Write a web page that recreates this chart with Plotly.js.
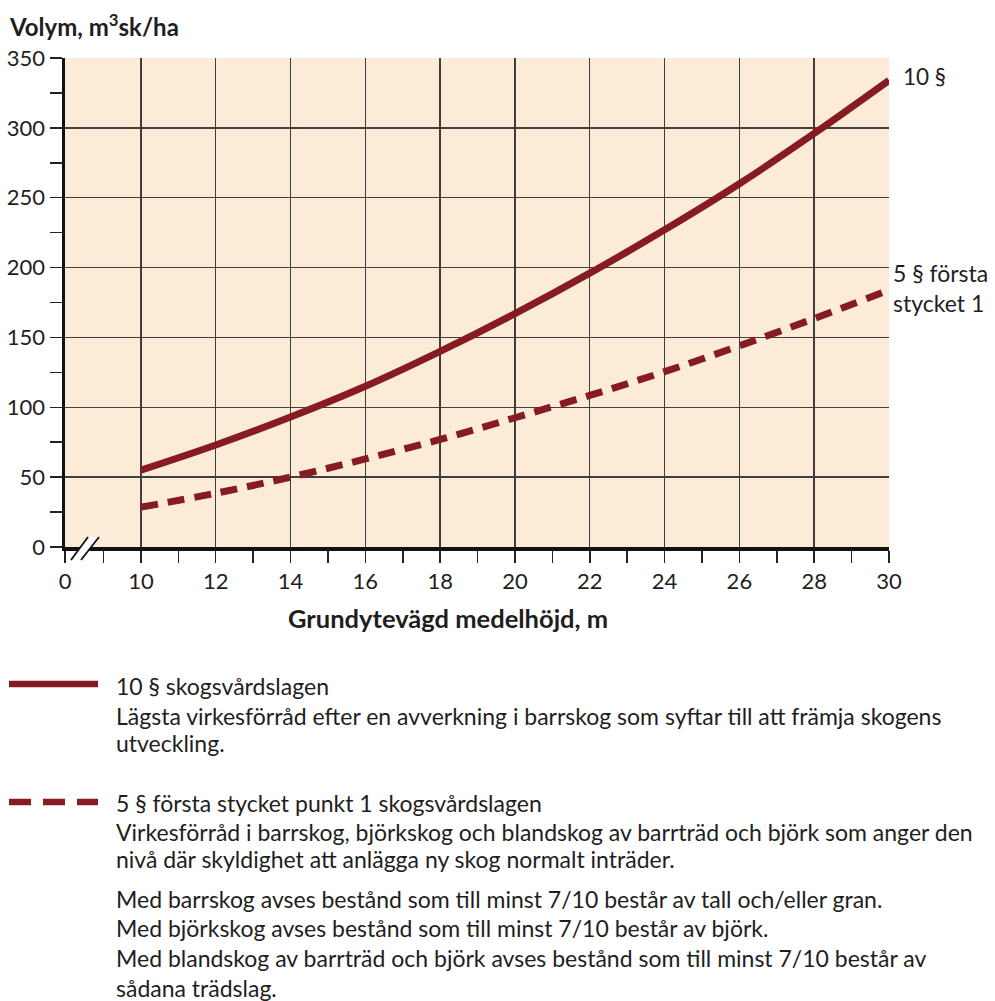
<!DOCTYPE html>
<html>
<head>
<meta charset="utf-8">
<script src="https://cdn.plot.ly/plotly-3.0.1.min.js"></script>
<style>html,body{margin:0;padding:0;background:#fff;}#chart{width:995px;height:1001px;}</style>
</head>
<body>
<div id="chart"></div>
<script>
// ---- data ----
const heights = [10, 12, 14, 16, 18, 20, 22, 24, 26, 28, 30];
const vol10 = [55, 73, 93, 115, 140, 167, 196, 227, 260, 296, 334];
const vol5 = [28.5, 38.5, 50, 63, 77, 92.5, 108.5, 125.5, 144, 163.5, 184];
const xBreakPos = 7.97; // where the "0" label sits after the axis break
const xTickVals = [xBreakPos, 10, 12, 14, 16, 18, 20, 22, 24, 26, 28, 30];
const xTickText = ['0', '10', '12', '14', '16', '18', '20', '22', '24', '26', '28', '30'];
const xMinorVals = [9, 11, 13, 15, 17, 19, 21, 23, 25, 27, 29];
const yTickVals = [0, 50, 100, 150, 200, 250, 300, 350];

const name10 = '10 § skogsvårdslagen';
const name5 = '5 § första stycket punkt 1 skogsvårdslagen';
const label10 = '10 §';
const label5 = '5 § första<br>stycket 1';
const desc10 = ['Lägsta virkesförråd efter en avverkning i barrskog som syftar till att främja skogens', 'utveckling.'];
const desc5 = ['Virkesförråd i barrskog, björkskog och blandskog av barrträd och björk som anger den', 'nivå där skyldighet att anlägga ny skog normalt inträder.'];
const notes = ['Med barrskog avses bestånd som till minst 7/10 består av tall och/eller gran.', 'Med björkskog avses bestånd som till minst 7/10 består av björk.', 'Med blandskog av barrträd och björk avses bestånd som till minst 7/10 består av', 'sådana trädslag.'];

// ---- layout helpers ----
const W = 995, H = 1001;
const L = 65, R = 889, T = 58, B = 547;
const px = x => (x - L) / (R - L);
const py = y => (B - y) / (B - T);
const red = '#871b22';
const txt = '#1e1e1e';
const FONT = 'Lato, "Open Sans", sans-serif';

const traces = [
  {x: heights, y: vol10, mode: 'lines', line: {color: red, width: 7, shape: 'spline'}, name: name10, hoverinfo: 'x+y'},
  {x: heights, y: vol5, mode: 'lines', line: {color: red, width: 7, shape: 'spline', dash: '17px,10px'}, name: name5, hoverinfo: 'x+y'}
];

const ann = [];
function text(x, y, s, size, bold, anchor) {
  ann.push({xref: 'paper', yref: 'paper', x: px(x), y: py(y), text: bold ? '<b>' + s + '</b>' : s,
    showarrow: false, xanchor: anchor || 'left', yanchor: 'middle', align: 'left',
    font: {family: FONT, size: size, color: txt}});
}
text(7, 25, 'Volym, m<sup>3</sup>sk/ha', 24, true);
text(448, 618, 'Grundytevägd medelhöjd, m', 25.5, true, 'center');
text(901, 76, label10, 22.5, false);
text(891, 288, label5, 23, false);

const LS = 23;
text(114, 686, name10, LS, false);
text(114, 716, desc10[0], LS, false);
text(114, 743, desc10[1], LS, false);
text(114, 803, name5, LS, false);
text(114, 832, desc5[0], LS, false);
text(114, 859, desc5[1], LS, false);
text(114, 899, notes[0], LS, false);
text(114, 928, notes[1], LS, false);
text(114, 958, notes[2], LS, false);
text(114, 988, notes[3], LS, false);

const shapes = [
  // legend samples
  {type: 'line', xref: 'paper', yref: 'paper', x0: px(9), x1: px(98), y0: py(684), y1: py(684), line: {color: red, width: 6.5}},
  {type: 'line', xref: 'paper', yref: 'paper', x0: px(9), x1: px(98), y0: py(802), y1: py(802), line: {color: red, width: 6.5, dash: '22px,12px'}},
  // axis break
  {type: 'path', xref: 'paper', yref: 'paper', path: `M${px(71)},${py(560)} L${px(88)},${py(537)} L${px(99)},${py(537)} L${px(81)},${py(560)} Z`, fillcolor: '#ffffff', line: {width: 0}},
  {type: 'line', xref: 'paper', yref: 'paper', x0: px(71), y0: py(560), x1: px(88), y1: py(537), line: {color: '#111', width: 1.8}},
  {type: 'line', xref: 'paper', yref: 'paper', x0: px(81), y0: py(560), x1: px(99), y1: py(537), line: {color: '#111', width: 1.8}}
];

const layout = {
  width: W, height: H,
  margin: {l: L, r: W - R, t: T, b: H - B, pad: 0},
  paper_bgcolor: '#ffffff',
  plot_bgcolor: '#fcebd7',
  showlegend: false,
  font: {family: FONT, color: txt},
  xaxis: {
    range: [xBreakPos, 30], tickmode: 'array', tickvals: xTickVals, ticktext: xTickText,
    showgrid: true, gridcolor: '#3f3f3f', gridwidth: 1.4,
    zeroline: false, showline: true, linecolor: '#111', linewidth: 3.5,
    ticks: 'outside', ticklen: 12, tickwidth: 1.5, tickcolor: '#222',
    tickfont: {size: 22, color: txt, family: FONT},
    minor: {tickmode: 'array', tickvals: xMinorVals, ticks: 'outside', ticklen: 12, tickwidth: 1.5, tickcolor: '#222', showgrid: false},
    fixedrange: true
  },
  yaxis: {
    range: [0, 350], tickmode: 'array', tickvals: yTickVals,
    showgrid: true, gridcolor: '#3f3f3f', gridwidth: 1.4,
    zeroline: false, showline: true, linecolor: '#111', linewidth: 3.5,
    ticks: 'outside', ticklen: 12, tickwidth: 1.5, tickcolor: '#222',
    tickfont: {size: 22, color: txt, family: FONT},
    minor: {dtick: 25, tick0: 0, ticks: 'outside', ticklen: 12, tickwidth: 1.5, tickcolor: '#222', showgrid: false},
    fixedrange: true
  },
  annotations: ann,
  shapes: shapes
};

Plotly.newPlot('chart', traces, layout, {displayModeBar: false, staticPlot: true});
</script>
</body>
</html>
